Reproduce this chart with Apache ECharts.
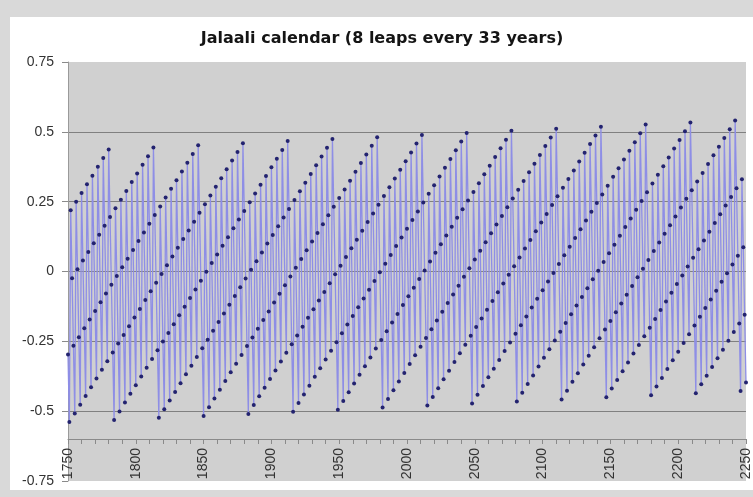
<!DOCTYPE html>
<html>
<head>
<meta charset="utf-8">
<script src="https://cdn.jsdelivr.net/npm/echarts@6/dist/echarts.min.js"></script>
<style>html,body{margin:0;padding:0;background:#d9d9d9}#c{width:753px;height:497px}</style>
</head>
<body>
<div id="c"></div>
<script>
const titleText = 'Jalaali calendar (8 leaps every 33 years)';
const firstYear = 1750;
const lastYear = 2250;
const yMin = -0.75, yMax = 0.75, yStep = 0.25;
const xAxisCross = -0.6;

// one value per year, 1750 .. 2250 (each row = one 33-year cycle)
const drift = [
  -0.297,-0.539,0.219,-0.024,-0.266,-0.508,0.250,0.008,-0.235,-0.477,0.281,0.039,-0.203,-0.446,0.312,0.070,-0.172,-0.414,0.343,0.101,-0.141,-0.383,0.375,0.132,-0.110,-0.352,0.406,0.164,-0.079,-0.321,0.437,0.195,-0.047,
  -0.290,-0.532,0.226,-0.016,-0.258,-0.501,0.257,0.015,-0.227,-0.469,0.288,0.046,-0.196,-0.438,0.320,0.077,-0.165,-0.407,0.351,0.109,-0.134,-0.376,0.382,0.140,-0.102,-0.345,0.413,0.171,-0.071,-0.313,0.444,0.202,-0.040,
  -0.282,-0.524,0.233,-0.009,-0.251,-0.493,0.265,0.022,-0.220,-0.462,0.296,0.054,-0.189,-0.431,0.327,0.085,-0.157,-0.400,0.358,0.116,-0.126,-0.368,0.389,0.147,-0.095,-0.337,0.421,0.178,-0.064,-0.306,0.452,0.210,-0.033,
  -0.275,-0.517,0.241,-0.001,-0.244,-0.486,0.272,0.030,-0.212,-0.455,0.303,0.061,-0.181,-0.423,0.334,0.092,-0.150,-0.392,0.366,0.123,-0.119,-0.361,0.397,0.155,-0.088,-0.330,0.428,0.186,-0.056,-0.299,0.459,0.217,-0.025,
  -0.267,-0.510,0.248,0.006,-0.236,-0.478,0.279,0.037,-0.205,-0.447,0.311,0.068,-0.174,-0.416,0.342,0.100,-0.143,-0.385,0.373,0.131,-0.111,-0.354,0.404,0.162,-0.080,-0.322,0.435,0.193,-0.049,-0.291,0.467,0.224,-0.018,
  -0.260,-0.502,0.256,0.013,-0.229,-0.471,0.287,0.045,-0.198,-0.440,0.318,0.076,-0.166,-0.409,0.349,0.107,-0.135,-0.377,0.380,0.138,-0.104,-0.346,0.412,0.169,-0.073,-0.315,0.443,0.201,-0.042,-0.284,0.474,0.232,-0.010,
  -0.253,-0.495,0.263,0.021,-0.221,-0.464,0.294,0.052,-0.190,-0.432,0.325,0.083,-0.159,-0.401,0.357,0.114,-0.128,-0.370,0.388,0.146,-0.097,-0.339,0.419,0.177,-0.065,-0.308,0.450,0.208,-0.034,-0.276,0.481,0.239,-0.003,
  -0.245,-0.487,0.270,0.028,-0.214,-0.456,0.302,0.059,-0.183,-0.425,0.333,0.091,-0.152,-0.394,0.364,0.122,-0.120,-0.363,0.395,0.153,-0.089,-0.331,0.426,0.184,-0.058,-0.300,0.458,0.215,-0.027,-0.269,0.489,0.247,0.004,
  -0.238,-0.480,0.278,0.036,-0.207,-0.449,0.309,0.067,-0.175,-0.418,0.340,0.098,-0.144,-0.386,0.371,0.129,-0.113,-0.355,0.403,0.160,-0.082,-0.324,0.434,0.192,-0.051,-0.293,0.465,0.223,-0.019,-0.262,0.496,0.254,0.012,
  -0.230,-0.473,0.285,0.043,-0.199,-0.441,0.316,0.074,-0.168,-0.410,0.348,0.105,-0.137,-0.379,0.379,0.137,-0.106,-0.348,0.410,0.168,-0.074,-0.317,0.441,0.199,-0.043,-0.285,0.472,0.230,-0.012,-0.254,0.504,0.261,0.019,
  -0.223,-0.465,0.293,0.050,-0.192,-0.434,0.324,0.082,-0.161,-0.403,0.355,0.113,-0.129,-0.372,0.386,0.144,-0.098,-0.340,0.417,0.175,-0.067,-0.309,0.449,0.206,-0.036,-0.278,0.480,0.238,-0.005,-0.247,0.511,0.269,0.027,
  -0.216,-0.458,0.300,0.058,-0.184,-0.427,0.331,0.089,-0.153,-0.395,0.362,0.120,-0.122,-0.364,0.394,0.151,-0.091,-0.333,0.425,0.183,-0.060,-0.302,0.456,0.214,-0.028,-0.271,0.487,0.245,0.003,-0.239,0.518,0.276,0.034,
  -0.208,-0.450,0.307,0.065,-0.177,-0.419,0.339,0.096,-0.146,-0.388,0.370,0.128,-0.115,-0.357,0.401,0.159,-0.083,-0.326,0.432,0.190,-0.052,-0.294,0.463,0.221,-0.021,-0.263,0.495,0.252,0.010,-0.232,0.526,0.284,0.041,
  -0.201,-0.443,0.315,0.073,-0.170,-0.412,0.346,0.104,-0.138,-0.381,0.377,0.135,-0.107,-0.349,0.408,0.166,-0.076,-0.318,0.440,0.197,-0.045,-0.287,0.471,0.229,-0.014,-0.256,0.502,0.260,0.018,-0.225,0.533,0.291,0.049,
  -0.193,-0.436,0.322,0.080,-0.162,-0.404,0.353,0.111,-0.131,-0.373,0.385,0.142,-0.100,-0.342,0.416,0.174,-0.069,-0.311,0.447,0.205,-0.037,-0.280,0.478,0.236,-0.006,-0.248,0.509,0.267,0.025,-0.217,0.541,0.298,0.056,
  -0.186,-0.428,0.330,0.087,-0.155,-0.397
];

const years = [];
for (let y = firstYear; y <= lastYear; y++) years.push(String(y));

const chart = echarts.init(document.getElementById('c'), null, {renderer: 'canvas'});
const gridTop = 62, gridBottom = 16, gridLeft = 68, gridRight = 4;
const gridH = 497 - gridTop - gridBottom;
const axisOffset = -Math.round((xAxisCross - yMin) / (yMax - yMin) * gridH);

chart.setOption({
  animation: false,
  backgroundColor: '#d9d9d9',
  graphic: [{
    type: 'rect', z: -10, silent: true,
    shape: {x: 10, y: 17, width: 743, height: 473},
    style: {fill: '#ffffff'}
  }],
  title: {
    text: titleText,
    left: 382, top: 31, textAlign: 'center', padding: 0,
    textStyle: {fontFamily: 'DejaVu Sans', fontWeight: 'bold', fontSize: 16, color: '#141414'}
  },
  grid: {
    left: gridLeft, right: gridRight, top: gridTop, bottom: gridBottom,
    show: true, backgroundColor: '#d0d0d0', borderWidth: 0
  },
  xAxis: {
    type: 'category', data: years, boundaryGap: false,
    offset: axisOffset,
    axisLine: {show: true, onZero: false, lineStyle: {color: '#8a8a8a', width: 1}},
    axisTick: {show: true, interval: 9, length: 5, inside: false, lineStyle: {color: '#8a8a8a'}},
    axisLabel: {interval: 49, rotate: 90, margin: 9, fontFamily: 'Liberation Sans', fontSize: 14, color: '#333333'},
    splitLine: {show: false}
  },
  yAxis: {
    type: 'value', min: yMin, max: yMax, interval: yStep,
    axisLine: {show: true, lineStyle: {color: '#9a9a9a'}},
    axisTick: {show: true, length: 6, lineStyle: {color: '#8a8a8a'}},
    axisLabel: {margin: 14, fontFamily: 'Liberation Sans', fontSize: 14, color: '#333333'},
    splitLine: {show: true, showMinLine: false, showMaxLine: false, lineStyle: {color: '#808080', width: 1}}
  },
  series: [{
    type: 'line', data: drift,
    showSymbol: true, showAllSymbol: true,
    symbol: 'circle', symbolSize: 4,
    lineStyle: {color: '#8e8ee6', width: 1.3},
    itemStyle: {color: '#23236f', borderWidth: 0},
    emphasis: {disabled: true}
  }]
});
</script>
</body>
</html>
